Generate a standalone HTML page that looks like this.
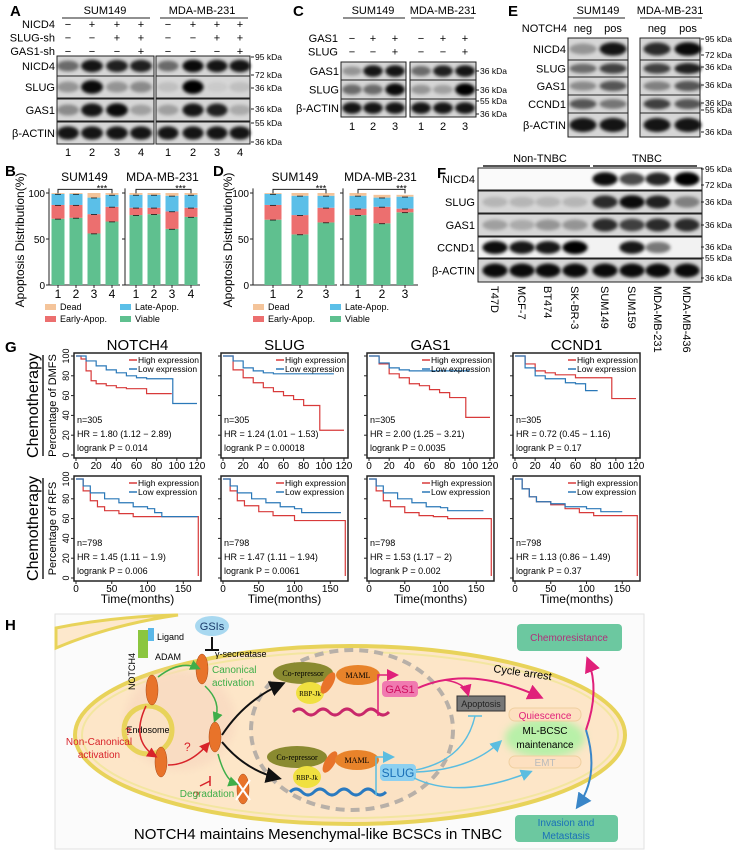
<!DOCTYPE html>
<html><head><meta charset="utf-8"><style>
html,body{margin:0;padding:0;background:#fff;}
svg{display:block;font-family:"Liberation Sans",Arial,sans-serif;}
</style></head><body>
<svg id="fig" width="739" height="855" viewBox="0 0 739 855" xmlns="http://www.w3.org/2000/svg">
<defs>
<filter id="bl" x="-30%" y="-80%" width="160%" height="260%"><feGaussianBlur stdDeviation="1.6"/></filter>
<filter id="bl2"><feGaussianBlur stdDeviation="4"/></filter>
<marker id="ak" markerWidth="8" markerHeight="8" refX="6" refY="4" orient="auto"><path d="M0,0 L8,4 L0,8 Z" fill="#111"/></marker>
<marker id="ag" markerWidth="7" markerHeight="7" refX="5" refY="3.5" orient="auto"><path d="M0,0 L7,3.5 L0,7 Z" fill="#3fae49"/></marker>
<marker id="ar" markerWidth="7" markerHeight="7" refX="5" refY="3.5" orient="auto"><path d="M0,0 L7,3.5 L0,7 Z" fill="#d8232a"/></marker>
<marker id="ap" markerWidth="8" markerHeight="8" refX="6" refY="4" orient="auto"><path d="M0,0 L8,4 L0,8 Z" fill="#e0207a"/></marker>
<marker id="ab" markerWidth="8" markerHeight="8" refX="6" refY="4" orient="auto"><path d="M0,0 L8,4 L0,8 Z" fill="#5bbde0"/></marker>
<marker id="ad" markerWidth="8" markerHeight="8" refX="6" refY="4" orient="auto"><path d="M0,0 L8,4 L0,8 Z" fill="#3a86c8"/></marker>
</defs>
<g id="blots"></g>
<g id="bars"></g>
<g id="km"></g>

<g>
<text x="5" y="630" font-size="15" font-weight="bold">H</text>
<rect x="55" y="614" width="589" height="235" fill="#fbfbfb" stroke="#e2e2e2"/>
<path d="M56,628 Q110,617 175,615 L178,615 Q110,625 56,648 Z" fill="#fde8cc" stroke="#e8d35a" stroke-width="3"/>
<ellipse cx="350" cy="735" rx="275" ry="89" fill="#fde6c8" stroke="#e8d35a" stroke-width="4"/>
<ellipse cx="350" cy="735" rx="268" ry="83" fill="none" stroke="#f3e6a0" stroke-width="2"/>
<ellipse cx="180" cy="720" rx="55" ry="50" fill="#f8d8c0" opacity="0.7" filter="url(#bl2)"/>
<ellipse cx="352" cy="730" rx="101" ry="80" fill="#fbe2c4" stroke="#b8b0a8" stroke-width="4" stroke-dasharray="9,6"/>
<circle cx="148" cy="730" r="24" fill="#fbe2c4" stroke="#e8d35a" stroke-width="5"/>
<text x="148" y="733" font-size="9" text-anchor="middle">Endosome</text>
<ellipse cx="212" cy="626" rx="17" ry="10" fill="#a8d8f0"/>
<text x="212" y="630" font-size="11" text-anchor="middle" fill="#1a3a6a">GSIs</text>
<path d="M212,637 V650 M205,650 H219" stroke="#111" stroke-width="2"/>
<rect x="138" y="630" width="10" height="28" fill="#8bc63f"/>
<rect x="148" y="628" width="6" height="13" fill="#5bb8e8"/>
<text x="157" y="640" font-size="9">Ligand</text>
<text x="155" y="660" font-size="9">ADAM</text>
<text x="215" y="657" font-size="9">γ-secreatase</text>
<text x="135" y="690" font-size="9" transform="rotate(-90 135 690)">NOTCH4</text>
<text x="212" y="673" font-size="10" fill="#3fae49">Canonical</text>
<text x="212" y="686" font-size="10" fill="#3fae49">activation</text>
<text x="99" y="745" font-size="10" fill="#d8232a" text-anchor="middle">Non-Canonical</text>
<text x="99" y="758" font-size="10" fill="#d8232a" text-anchor="middle">activation</text>
<text x="125" y="735" font-size="11" fill="#d8232a">?</text>
<text x="184" y="751" font-size="12" fill="#d8232a">?</text>
<text x="193" y="799" font-size="11" fill="#d8232a">?</text>
<text x="207" y="797" font-size="10" fill="#3fae49" text-anchor="middle">Degradation</text>
<g fill="#e8732a" stroke="#a84818" stroke-width="0.5">
<ellipse cx="152" cy="690" rx="6" ry="15"/><ellipse cx="202" cy="669" rx="6" ry="15"/>
<ellipse cx="215" cy="737" rx="6" ry="15"/><ellipse cx="161" cy="762" rx="6" ry="15"/>
<ellipse cx="243" cy="789" rx="6" ry="15"/>
</g>
<path d="M236,780 L250,800 M250,780 L236,800" stroke="#fff" stroke-width="2"/>
<path d="M158,677 Q180,660 198,668" fill="none" stroke="#3fae49" stroke-width="1.5" marker-end="url(#ag)"/>
<path d="M205,686 Q222,702 215,720" fill="none" stroke="#3fae49" stroke-width="1.5" marker-end="url(#ag)"/>
<path d="M218,754 Q225,780 236,784" fill="none" stroke="#3fae49" stroke-width="1.5" marker-end="url(#ag)"/>
<path d="M146,706 Q130,740 155,756" fill="none" stroke="#d8232a" stroke-width="1.5" marker-end="url(#ar)"/>
<path d="M168,765 Q190,765 208,744" fill="none" stroke="#d8232a" stroke-width="1.5" marker-end="url(#ar)"/>
<path d="M200,786 L210,781 M210,776 V786" stroke="#d8232a" stroke-width="1.5"/>
<path d="M222,735 Q245,700 282,684" fill="none" stroke="#111" stroke-width="2" marker-end="url(#ak)"/>
<path d="M222,742 Q245,770 278,778" fill="none" stroke="#111" stroke-width="2" marker-end="url(#ak)"/>
<g>
<path d="M293,712 q6,-6 12,0 t12,0 t12,0 t12,0 t12,0 t12,0 t12,0 t12,0" fill="none" stroke="#c8286a" stroke-width="3"/>
<ellipse cx="303" cy="673" rx="30" ry="11" fill="#8a8a30"/>
<text x="303" y="676" font-size="8" text-anchor="middle" font-family="Liberation Serif,serif">Co-repressor</text>
<ellipse cx="310" cy="693" rx="14" ry="11" fill="#f0e040"/>
<text x="310" y="696" font-size="7" text-anchor="middle" font-family="Liberation Serif,serif">RBP-Jk</text>
<ellipse cx="328" cy="683" rx="5" ry="12" fill="#e8732a" transform="rotate(30 328 683)"/>
<ellipse cx="358" cy="675" rx="22" ry="10" fill="#e8832a"/>
<text x="358" y="678" font-size="8" text-anchor="middle" font-family="Liberation Serif,serif">MAML</text>
<path d="M378,716 V675 H396" fill="none" stroke="#e0207a" stroke-width="1.5" marker-end="url(#ap)"/>
<rect x="382" y="681" width="36" height="16" rx="4" fill="#f07ab0"/>
<text x="400" y="693" font-size="11" text-anchor="middle" fill="#d01060">GAS1</text>
</g>
<g>
<path d="M290,792 q6,-6 12,0 t12,0 t12,0 t12,0 t12,0 t12,0 t12,0 t12,0" fill="none" stroke="#2a7ac0" stroke-width="3"/>
<ellipse cx="297" cy="757" rx="30" ry="11" fill="#8a8a30"/>
<text x="297" y="760" font-size="8" text-anchor="middle" font-family="Liberation Serif,serif">Co-repressor</text>
<ellipse cx="307" cy="777" rx="14" ry="11" fill="#f0e040"/>
<text x="307" y="780" font-size="7" text-anchor="middle" font-family="Liberation Serif,serif">RBP-Jk</text>
<ellipse cx="330" cy="762" rx="5" ry="12" fill="#e8732a" transform="rotate(30 330 762)"/>
<ellipse cx="357" cy="760" rx="22" ry="10" fill="#e8832a"/>
<text x="357" y="763" font-size="8" text-anchor="middle" font-family="Liberation Serif,serif">MAML</text>
<path d="M376,795 V757 H392" fill="none" stroke="#5bbde0" stroke-width="1.5" marker-end="url(#ab)"/>
<rect x="380" y="764" width="36" height="17" rx="4" fill="#8dd0f0"/>
<text x="398" y="777" font-size="12" text-anchor="middle" fill="#1a70b8">SLUG</text>
</g>
<rect x="457" y="696" width="48" height="15" fill="#777" stroke="#333"/>
<text x="481" y="707" font-size="9" text-anchor="middle" fill="#222">Apoptosis</text>
<text x="493" y="672" font-size="11" transform="rotate(8 493 672)">Cycle arrest</text>
<path d="M418,688 Q470,665 540,697" fill="none" stroke="#e0207a" stroke-width="2" marker-end="url(#ap)"/>
<path d="M445,680 Q465,683 468,694" fill="none" stroke="#e0207a" stroke-width="1.5" marker-end="url(#ap)"/>
<path d="M416,770 Q465,760 475,716 M468,716 H482" fill="none" stroke="#5bbde0" stroke-width="1.5"/>
<path d="M416,772 Q470,770 500,742" fill="none" stroke="#5bbde0" stroke-width="1.5" marker-end="url(#ab)"/>
<path d="M414,778 Q460,800 530,772" fill="none" stroke="#5bbde0" stroke-width="1.5" marker-end="url(#ab)"/>
<ellipse cx="545" cy="738" rx="40" ry="20" fill="#b8f0a8" filter="url(#bl2)"/>
<rect x="509" y="708" width="72" height="13" rx="6" fill="#fde0c0" stroke="#f0d0a0"/>
<text x="545" y="719" font-size="10" text-anchor="middle" fill="#e0207a">Quiescence</text>
<text x="545" y="734" font-size="10" text-anchor="middle">ML-BCSC</text>
<text x="545" y="748" font-size="10" text-anchor="middle">maintenance</text>
<rect x="509" y="756" width="72" height="12" rx="6" fill="#fde0c0" stroke="#f0d0a0"/>
<text x="545" y="766" font-size="10" text-anchor="middle" fill="#bbb">EMT</text>
<path d="M586,730 Q600,690 588,660" fill="none" stroke="#e0207a" stroke-width="2" marker-end="url(#ap)"/>
<path d="M586,730 Q600,775 578,806" fill="none" stroke="#3a86c8" stroke-width="2" marker-end="url(#ad)"/>
<rect x="517" y="624" width="105" height="27" rx="4" fill="#6cc8a0"/>
<text x="569" y="641" font-size="10" text-anchor="middle" fill="#b0307a">Chemoresistance</text>
<rect x="515" y="815" width="103" height="27" rx="4" fill="#6cc8a0"/>
<text x="566" y="826" font-size="10" text-anchor="middle" fill="#1a70b8">Invasion and</text>
<text x="566" y="839" font-size="10" text-anchor="middle" fill="#1a70b8">Metastasis</text>
<text x="318" y="839" font-size="15" text-anchor="middle">NOTCH4 maintains Mesenchymal-like BCSCs in TNBC</text>
</g>
</svg>
<script>
// ---------- DATA ----------
const barsB_SUM_viable=[72,73,56,69], barsB_SUM_early=[15,14,21,16], barsB_SUM_late=[12,12,18,13], barsB_SUM_dead=[1,1,5,2];
const barsB_MDA_viable=[76,77,61,74], barsB_MDA_early=[8,7,19,10], barsB_MDA_late=[14,14,17,14], barsB_MDA_dead=[2,2,3,2];
const barsD_SUM_viable=[71,55,68], barsD_SUM_early=[16,21,16], barsD_SUM_late=[12,21,13], barsD_SUM_dead=[1,3,3];
const barsD_MDA_viable=[76,67,79], barsD_MDA_early=[7,18,4], barsD_MDA_late=[14,10,13], barsD_MDA_dead=[3,3,2];
const yTicks=[0,50,100];
const kmDMFS_NOTCH4_high=[[0,100],[5,97],[10,85],[15,75],[20,72],[30,70],[40,68],[50,67],[70,62],[95,62]];
const kmDMFS_NOTCH4_low=[[0,100],[10,95],[20,90],[30,86],[40,83],[50,80],[60,78],[70,77],[95,77],[96,52],[120,52]];
const kmDMFS_SLUG_high=[[0,100],[10,86],[20,78],[30,73],[40,68],[50,64],[60,60],[70,56],[80,50],[95,50],[96,25],[120,25]];
const kmDMFS_SLUG_low=[[0,100],[10,95],[20,88],[30,85],[40,83],[50,82],[110,82]];
const kmDMFS_GAS1_high=[[0,100],[10,92],[20,82],[30,78],[40,72],[50,70],[60,66],[70,63],[80,58],[95,58],[96,38],[120,38]];
const kmDMFS_GAS1_low=[[0,100],[10,93],[20,88],[30,86],[40,85],[100,85]];
const kmDMFS_CCND1_high=[[0,100],[10,92],[20,85],[30,83],[40,81],[60,78],[95,78],[96,57],[120,57]];
const kmDMFS_CCND1_low=[[0,100],[10,88],[20,80],[30,77],[50,73],[60,72],[70,65],[82,65]];
const kmRFS_NOTCH4_high=[[0,100],[10,88],[20,78],[30,72],[40,68],[60,65],[80,62],[170,62],[171,2]];
const kmRFS_NOTCH4_low=[[0,100],[10,93],[20,86],[40,80],[60,76],[80,72],[100,70],[110,66],[120,62],[170,62]];
const kmRFS_SLUG_high=[[0,100],[10,88],[20,78],[30,73],[50,67],[70,63],[100,58],[170,58],[171,2]];
const kmRFS_SLUG_low=[[0,100],[10,93],[20,86],[40,80],[60,76],[80,72],[100,70],[110,66],[165,66]];
const kmRFS_GAS1_high=[[0,100],[10,88],[20,78],[30,72],[50,66],[70,63],[90,62],[110,60],[170,60],[171,2]];
const kmRFS_GAS1_low=[[0,100],[10,93],[20,86],[40,80],[60,76],[80,72],[100,71],[110,68],[160,68]];
const kmRFS_CCND1_high=[[0,100],[10,90],[20,82],[30,77],[50,74],[70,70],[90,66],[110,63],[170,63],[171,2]];
const kmRFS_CCND1_low=[[0,100],[10,90],[20,82],[30,77],[50,75],[70,72],[100,70],[120,67],[150,67]];
const kmGenes=["NOTCH4","SLUG","GAS1","CCND1"];
const kmDMFS_stats=[["n=305","HR = 1.80 (1.12 − 2.89)","logrank P = 0.014"],["n=305","HR = 1.24 (1.01 − 1.53)","logrank P = 0.00018"],["n=305","HR = 2.00 (1.25 − 3.21)","logrank P = 0.0035"],["n=305","HR = 0.72 (0.45 − 1.16)","logrank P = 0.17"]];
const kmRFS_stats=[["n=798","HR = 1.45 (1.11 − 1.9)","logrank P = 0.006"],["n=798","HR = 1.47 (1.11 − 1.94)","logrank P = 0.0061"],["n=798","HR = 1.53 (1.17 − 2)","logrank P = 0.002"],["n=798","HR = 1.13 (0.86 − 1.49)","logrank P = 0.37"]];
const kmDMFS_xticks=[0,20,40,60,80,100,120];
const kmRFS_xticks=[0,50,100,150];
const kmYticks=[0,20,40,60,80,100];
const blotA_NICD4=[0.5,0.9,0.85,0.85,0.5,0.95,0.9,0.9];
const blotA_SLUG=[0.3,0.95,0.3,0.35,0.1,1,0.05,0.1];
const blotA_GAS1=[0.35,0.9,0.95,0.25,0.25,0.9,0.85,0.2];
const blotA_ACTIN=[0.9,0.9,0.9,0.9,0.9,0.9,0.9,0.9];
const blotC_GAS1=[0.3,0.9,0.9,0.5,0.85,0.9];
const blotC_SLUG=[0.5,0.5,0.95,0.3,0.25,1];
const blotC_ACTIN=[0.9,0.9,0.9,0.9,0.9,0.9];
const blotE_NICD4=[0.3,0.9,0.8,0.95];
const blotE_SLUG=[0.5,0.7,0.7,0.85];
const blotE_GAS1=[0.35,0.6,0.4,0.6];
const blotE_CCND1=[0.6,0.45,0.7,0.6];
const blotE_ACTIN=[0.9,0.9,0.9,0.9];
const blotF_NICD4=[0,0,0,0,0.95,0.7,0.85,1];
const blotF_SLUG=[0.15,0.15,0.15,0.15,0.8,0.95,0.85,0.4];
const blotF_GAS1=[0.25,0.2,0.3,0.3,0.8,0.7,0.8,0.8];
const blotF_CCND1=[0.95,0.9,0.9,1,0,0.9,0.5,0];
const blotF_ACTIN=[0.95,0.95,0.95,0.95,0.95,0.95,0.95,0.95];
const cellLines=["T47D","MCF-7","BT474","SK-BR-3","SUM149","SUM159","MDA-MB-231","MDA-MB-436"];

// ---------- HELPERS ----------
const NS="http://www.w3.org/2000/svg";
function mk(parent,tag,attrs,txt){const e=document.createElementNS(NS,tag);for(const k in attrs)e.setAttribute(k,attrs[k]);if(txt!==undefined)e.textContent=txt;parent.appendChild(e);return e;}
function txt(parent,x,y,s,size,anchor,extra){const a={x:x,y:y,"font-size":size||11,"text-anchor":anchor||"start"};if(extra)for(const k in extra)a[k]=extra[k];return mk(parent,"text",a,s);}
const BL=document.getElementById("blots"), BR=document.getElementById("bars"), KM=document.getElementById("km");

// ---------- BLOTS ----------
function blotRow(x0,x1,y0,y1,lanes,vals,bg){
  const g=mk(BL,"g",{});
  
  
  mk(g,"rect",{x:x0,y:y0,width:x1-x0,height:y1-y0,fill:bg||"#d6d6d6",stroke:"#222","stroke-width":1});
  const lw=(x1-x0)/lanes.length;
  lanes.forEach((cx,i)=>{const v=vals[i];if(v<=0.02)return;
    const b=mk(g,"ellipse",{cx:cx,cy:(y0+y1)/2,rx:lw*0.45,ry:(y1-y0)*0.22+v*2,fill:"#000",opacity:v,filter:"url(#bl)"});
    
    });
}
function kda(x,y,s){mk(BL,"line",{x1:x-3,y1:y-3,x2:x,y2:y-3,stroke:"#222"});txt(BL,x+1,y,s,8.5);}
txt(BL,10,16,"A",15,"start",{"font-weight":"bold"});
txt(BL,105,14,"SUM149",11,"middle");mk(BL,"line",{x1:62,y1:18,x2:150,y2:18,stroke:"#222"});
txt(BL,202,14,"MDA-MB-231",11,"middle");mk(BL,"line",{x1:160,y1:18,x2:248,y2:18,stroke:"#222"});
const laneA=[68,92,117,141,168,193,217,240];
const signsA=[["NICD4","−+++−+++"],["SLUG-sh","−−++−−++"],["GAS1-sh","−−−+−−−+"]];
signsA.forEach((r,j)=>{const y=28+j*13.5;txt(BL,55,y,r[0],11,"end");[...r[1]].forEach((c,i)=>txt(BL,laneA[i],y,c,11,"middle"));});
[["NICD4",56,76,blotA_NICD4],["SLUG",76,98,blotA_SLUG],["GAS1",99,121,blotA_GAS1],["β-ACTIN",122,144,blotA_ACTIN]].forEach(r=>{
  txt(BL,55,(r[1]+r[2])/2+4,r[0],11,"end");
  blotRow(57,154,r[1],r[2],laneA.slice(0,4),r[3].slice(0,4));
  blotRow(156,250,r[1],r[2],laneA.slice(4),r[3].slice(4));});
[[60,"95 kDa"],[78,"72 kDa"],[91,"36 kDa"],[112,"36 kDa"],[126,"55 kDa"],[145,"36 kDa"]].forEach(k=>kda(254,k[0],k[1]));
laneA.forEach((x,i)=>txt(BL,x,156,String(i%4+1),11,"middle"));
txt(BL,293,16,"C",15,"start",{"font-weight":"bold"});
txt(BL,373,14,"SUM149",11,"middle");mk(BL,"line",{x1:343,y1:18,x2:405,y2:18,stroke:"#222"});
txt(BL,443,14,"MDA-MB-231",11,"middle");mk(BL,"line",{x1:411,y1:18,x2:474,y2:18,stroke:"#222"});
const laneC=[352,373,395,421,443,465];
[["GAS1","−++−++"],["SLUG","−−+−−+"]].forEach((r,j)=>{const y=42+j*13.5;txt(BL,338,y,r[0],11,"end");[...r[1]].forEach((c,i)=>txt(BL,laneC[i],y,c,11,"middle"));});
[["GAS1",62,80,blotC_GAS1],["SLUG",80,99,blotC_SLUG],["β-ACTIN",99,117,blotC_ACTIN]].forEach(r=>{
  txt(BL,339,(r[1]+r[2])/2+4,r[0],11,"end");
  blotRow(341,406,r[1],r[2],laneC.slice(0,3),r[3].slice(0,3));
  blotRow(410,476,r[1],r[2],laneC.slice(3),r[3].slice(3));});
[[74,"36 kDa"],[93,"36 kDa"],[104,"55 kDa"],[117,"36 kDa"]].forEach(k=>kda(479,k[0],k[1]));
laneC.forEach((x,i)=>txt(BL,x,130,String(i%3+1),11,"middle"));
txt(BL,508,16,"E",15,"start",{"font-weight":"bold"});
txt(BL,598,14,"SUM149",11,"middle");mk(BL,"line",{x1:573,y1:18,x2:625,y2:18,stroke:"#222"});
txt(BL,670,14,"MDA-MB-231",11,"middle");mk(BL,"line",{x1:640,y1:18,x2:702,y2:18,stroke:"#222"});
const laneE=[583,613,657,688];
txt(BL,567,32,"NOTCH4",11,"end");["neg","pos","neg","pos"].forEach((s,i)=>txt(BL,laneE[i],32,s,11,"middle"));
[["NICD4",38,60,blotE_NICD4],["SLUG",60,77,blotE_SLUG],["GAS1",77,95,blotE_GAS1],["CCND1",95,113,blotE_CCND1],["β-ACTIN",113,137,blotE_ACTIN]].forEach(r=>{
  txt(BL,566,(r[1]+r[2])/2+4,r[0],11,"end");
  blotRow(568,628,r[1],r[2],laneE.slice(0,2),r[3].slice(0,2));
  blotRow(640,700,r[1],r[2],laneE.slice(2),r[3].slice(2));});
[[42,"95 kDa"],[58,"72 kDa"],[70,"36 kDa"],[88,"36 kDa"],[106,"36 kDa"],[113,"55 kDa"],[135,"36 kDa"]].forEach(k=>kda(704,k[0],k[1]));
txt(BL,437,178,"F",15,"start",{"font-weight":"bold"});
txt(BL,540,162,"Non-TNBC",11,"middle");mk(BL,"line",{x1:483,y1:166,x2:590,y2:166,stroke:"#555","stroke-width":2});
txt(BL,647,162,"TNBC",11,"middle");mk(BL,"line",{x1:593,y1:166,x2:697,y2:166,stroke:"#555","stroke-width":2});
const laneF=[495,522,548,575,605,632,658,687];
[["NICD4",168,190,blotF_NICD4,"#fafafa"],["SLUG",191,213,blotF_SLUG],["GAS1",214,236,blotF_GAS1],["CCND1",237,258,blotF_CCND1,"#f2f2f2"],["β-ACTIN",259,282,blotF_ACTIN]].forEach(r=>{
  txt(BL,475,(r[1]+r[2])/2+4,r[0],11,"end");
  blotRow(478,702,r[1],r[2],laneF,r[3],r[4]);});
[[172,"95 kDa"],[188,"72 kDa"],[205,"36 kDa"],[228,"36 kDa"],[250,"36 kDa"],[261,"55 kDa"],[281,"36 kDa"]].forEach(k=>kda(704,k[0],k[1]));
cellLines.forEach((s,i)=>{const t=txt(BL,laneF[i]-4,286,s,11,"start",{transform:`rotate(90 ${laneF[i]-4} 286)`});
  
  });

// ---------- BAR CHARTS ----------
const segColors=["#5fc08f","#ec6f6f","#5bbfe8","#f4c49a"];
function barChart(ax0,ax1,centers,bw,vi,ea,la,de,showY,title){
  const y0=285, yScale=v=>y0-v*0.92;
  mk(BR,"line",{x1:ax0,y1:yScale(0),x2:ax0,y2:yScale(105),stroke:"#222"});
  mk(BR,"line",{x1:ax0,y1:y0,x2:ax1,y2:y0,stroke:"#222"});
  yTicks.forEach(t=>{mk(BR,"line",{x1:ax0-3,y1:yScale(t),x2:ax0,y2:yScale(t),stroke:"#222"});
    if(showY)txt(BR,ax0-4,yScale(t)+4,String(t),10,"end");});
  txt(BR,(ax0+ax1)/2,181,title,12,"middle");
  centers.forEach((c,i)=>{
    let base=0;
    [vi[i],ea[i],la[i],de[i]].forEach((v,k)=>{
      const r=mk(BR,"rect",{x:c-bw/2,y:yScale(base+v),width:bw,height:v*0.92,fill:segColors[k]});
      
      
      base+=v;
      if(k<3)mk(BR,"line",{x1:c-3,y1:yScale(base),x2:c+3,y2:yScale(base),stroke:"#111","stroke-width":1.5});
    });
    mk(BR,"line",{x1:c,y1:y0,x2:c,y2:y0+3,stroke:"#222"});
    txt(BR,c,298,String(i+1),12,"middle");
  });
  const bt=yScale(104);
  mk(BR,"path",{d:`M${centers[0]},${bt+4} V${bt} H${centers[centers.length-1]} V${bt+4}`,fill:"none",stroke:"#222"});
  txt(BR,(centers[1]+centers[centers.length-1])/2+8,bt+2,"***",9,"middle");
}
txt(BR,5,176,"B",15,"start",{"font-weight":"bold"});
txt(BR,213,176,"D",15,"start",{"font-weight":"bold"});
barChart(49,120,[58,76,94,112],13,barsB_SUM_viable,barsB_SUM_early,barsB_SUM_late,barsB_SUM_dead,true,"SUM149");
barChart(125,200,[136,154,172,191],13,barsB_MDA_viable,barsB_MDA_early,barsB_MDA_late,barsB_MDA_dead,false,"MDA-MB-231");
barChart(253,337,[273,300,326],17,barsD_SUM_viable,barsD_SUM_early,barsD_SUM_late,barsD_SUM_dead,true,"SUM149");
barChart(343,418,[358,382,405],17,barsD_MDA_viable,barsD_MDA_early,barsD_MDA_late,barsD_MDA_dead,false,"MDA-MB-231");
txt(BR,24,240,"Apoptosis Distribution(%)",12,"middle",{transform:"rotate(-90 24 240)"});
txt(BR,232,240,"Apoptosis Distribution(%)",12,"middle",{transform:"rotate(-90 232 240)"});
[[45,120],[253,330]].forEach(p=>{
  [["Dead",3,0],["Early-Apop.",1,1]].forEach((e,j)=>{mk(BR,"rect",{x:p[0],y:304+j*12,width:11,height:6,fill:segColors[e[1]]});txt(BR,p[0]+15,310+j*12,e[0],9);});
  [["Late-Apop.",2],["Viable",0]].forEach((e,j)=>{mk(BR,"rect",{x:p[1],y:304+j*12,width:11,height:6,fill:segColors[e[1]]});txt(BR,p[1]+15,310+j*12,e[0],9);});
});

// ---------- KM PLOTS ----------
txt(KM,5,352,"G",15,"start",{"font-weight":"bold"});
const colX=[74,221,367,513], W=127;
const rows=[{top:353,bot:458,xmax:122,xt:kmDMFS_xticks,stats:kmDMFS_stats,data:[[kmDMFS_NOTCH4_high,kmDMFS_NOTCH4_low],[kmDMFS_SLUG_high,kmDMFS_SLUG_low],[kmDMFS_GAS1_high,kmDMFS_GAS1_low],[kmDMFS_CCND1_high,kmDMFS_CCND1_low]],lab:"Percentage of DMFS"},
            {top:476,bot:581,xmax:172,xt:kmRFS_xticks,stats:kmRFS_stats,data:[[kmRFS_NOTCH4_high,kmRFS_NOTCH4_low],[kmRFS_SLUG_high,kmRFS_SLUG_low],[kmRFS_GAS1_high,kmRFS_GAS1_low],[kmRFS_CCND1_high,kmRFS_CCND1_low]],lab:"Percentage of RFS"}];
kmGenes.forEach((g,i)=>txt(KM,colX[i]+W/2,350,g,15,"middle"));
rows.forEach((r,ri)=>{
  const cy=(r.top+r.bot)/2;
  txt(KM,38,cy,"Chemotherapy",16,"middle",{transform:`rotate(-90 38 ${cy})`});
  mk(KM,"line",{x1:43,y1:r.top+2,x2:43,y2:r.bot-2,stroke:"#222","stroke-width":1.5});
  txt(KM,56,cy,r.lab,11,"middle",{transform:`rotate(-90 56 ${cy})`});
  colX.forEach((x0,ci)=>{
    const xs=v=>x0+2+v/r.xmax*(W-4), ys=v=>r.bot-3-v/100*(r.bot-r.top-6);
    const box=mk(KM,"rect",{x:x0,y:r.top,width:W,height:r.bot-r.top,fill:"#fff",stroke:"#222","stroke-width":1.5});
    
    
    kmYticks.forEach(t=>{mk(KM,"line",{x1:x0-3,y1:ys(t),x2:x0,y2:ys(t),stroke:"#222"});
      if(ci===0)txt(KM,x0-5,ys(t),String(t),9,"middle",{transform:`rotate(-90 ${x0-5} ${ys(t)})`});});
    r.xt.forEach(t=>{mk(KM,"line",{x1:xs(t),y1:r.bot,x2:xs(t),y2:r.bot+3,stroke:"#222"});txt(KM,xs(t),r.bot+11,String(t),10,"middle");});
    ["#d83a3a","#2a78b8"].forEach((col,k)=>{
      const pts=r.data[ci][k];let d=`M${xs(pts[0][0])},${ys(pts[0][1])}`;
      for(let j=1;j<pts.length;j++){d+=` H${xs(pts[j][0])} V${ys(pts[j][1])}`;}
      const p=mk(KM,"path",{d:d,fill:"none",stroke:col,"stroke-width":1.2});
      
      
    });
    mk(KM,"line",{x1:x0+55,y1:r.top+7,x2:x0+63,y2:r.top+7,stroke:"#d83a3a","stroke-width":1.5});
    txt(KM,x0+64,r.top+10,"High expression",8.5);
    mk(KM,"line",{x1:x0+55,y1:r.top+16,x2:x0+63,y2:r.top+16,stroke:"#2a78b8","stroke-width":1.5});
    txt(KM,x0+64,r.top+19,"Low expression",8.5);
    r.stats[ci].forEach((s,j)=>txt(KM,x0+3,r.bot-35+j*14,s,9));
  });
});
colX.forEach(x0=>txt(KM,x0+W/2,603,"Time(months)",12,"middle"));
</script>
</body></html>
